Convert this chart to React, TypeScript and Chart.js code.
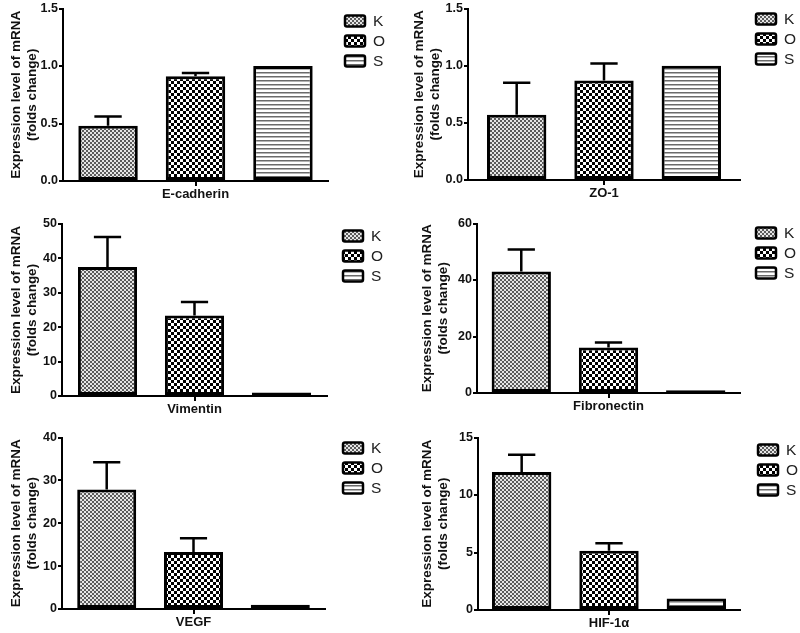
import React, { useEffect, useRef } from "react";
import { Chart, registerables } from "chart.js";
Chart.register(...registerables);

// ---- data ----
const groups = ["K", "O", "S"];
const genes = ["E-cadherin", "ZO-1", "Vimentin", "Fibronectin", "VEGF", "HIF-1α"];
const eCadherinMean = [0.48, 0.91, 1.0];
const eCadherinSem = [0.08, 0.03, 0];
const zo1Mean = [0.57, 0.87, 1.0];
const zo1Sem = [0.28, 0.15, 0];
const vimentinMean = [37.5, 23.4, 1.0];
const vimentinSem = [8.7, 3.9, 0];
const fibronectinMean = [43.0, 16.1, 1.0];
const fibronectinSem = [7.8, 1.8, 0];
const vegfMean = [27.9, 13.3, 1.0];
const vegfSem = [6.3, 3.2, 0];
const hifMean = [12.0, 5.15, 1.0];
const hifSem = [1.5, 0.65, 0];
const yMaxes = [1.5, 1.5, 50, 60, 40, 15];
const ySteps = [0.5, 0.5, 10, 20, 10, 5];
const yTitle = ["Expression level of mRNA", "(folds change)"];

const means = [eCadherinMean, zo1Mean, vimentinMean, fibronectinMean, vegfMean, hifMean];
const sems = [eCadherinSem, zo1Sem, vimentinSem, fibronectinSem, vegfSem, hifSem];

// ---- layout (positions only) ----
const W = 400;
const H = 211;
const FAMILY = "'Liberation Sans', Arial, sans-serif";
const panels = [
  { x: 0, y: 0, left: 63, top: 8, bottom: 181, right: 328, titlePad: 8, cat: 0.99, legX: 345, legY: 21 },
  { x: 400, y: 0, left: 68, top: 7, bottom: 180, right: 340, titlePad: 11, cat: 0.963, legX: 356, legY: 19 },
  { x: 0, y: 215, left: 62, top: 9, bottom: 181, right: 327, titlePad: 8, cat: 0.985, legX: 343, legY: 21 },
  { x: 400, y: 215, left: 77, top: 7, bottom: 178, right: 340, titlePad: 19, cat: 0.995, legX: 356, legY: 18 },
  { x: 0, y: 429, left: 62, top: 8, bottom: 180, right: 325, titlePad: 8, cat: 0.99, legX: 343, legY: 19 },
  { x: 400, y: 429, left: 78, top: 8, bottom: 181, right: 340, titlePad: 19, cat: 1.0, legX: 358, legY: 21 },
];

function makePattern(kind: string): CanvasPattern | string {
  const c = document.createElement("canvas");
  const ctx = c.getContext("2d");
  if (!ctx) return "#999";
  if (kind === "K") {
    c.width = 4; c.height = 4;
    ctx.fillStyle = "#e6e6e6"; ctx.fillRect(0, 0, 4, 4);
    ctx.fillStyle = "#5c5c5c"; ctx.fillRect(0, 0, 2, 2); ctx.fillRect(2, 2, 2, 2);
  } else if (kind === "O") {
    c.width = 6; c.height = 6;
    ctx.fillStyle = "#ffffff"; ctx.fillRect(0, 0, 6, 6);
    ctx.fillStyle = "#000000"; ctx.fillRect(0, 0, 3, 3); ctx.fillRect(3, 3, 3, 3);
  } else {
    c.width = 4; c.height = 4;
    ctx.fillStyle = "#ffffff"; ctx.fillRect(0, 0, 4, 4);
    ctx.fillStyle = "#6a6a6a"; ctx.fillRect(0, 0, 4, 1);
    ctx.fillStyle = "#b4b4b4"; ctx.fillRect(0, 1, 4, 1);
  }
  const p = ctx.createPattern(c, "repeat");
  return p || "#999";
}

function Panel({ idx }: { idx: number }) {
  const ref = useRef<HTMLCanvasElement | null>(null);
  useEffect(() => {
    if (!ref.current) return;
    const p = panels[idx];
    const fills = groups.map((g) => makePattern(g));
    const mean = means[idx];
    const sem = sems[idx];

    const errorBars = {
      id: "errorBars",
      afterDatasetsDraw(chart: any) {
        const ctx = chart.ctx;
        const ys = chart.scales.y;
        ctx.save();
        ctx.strokeStyle = "#000";
        ctx.lineWidth = 2.5;
        chart.data.datasets.forEach((ds: any, i: number) => {
          const s = ds.sem[0];
          if (!s) return;
          const bar = chart.getDatasetMeta(i).data[0];
          const x = bar.x;
          const y0 = bar.y;
          const y1 = ys.getPixelForValue(ds.data[0] + s);
          const half = bar.width * 0.23;
          ctx.beginPath();
          ctx.moveTo(x, y0);
          ctx.lineTo(x, y1);
          ctx.moveTo(x - half, y1);
          ctx.lineTo(x + half, y1);
          ctx.stroke();
        });
        ctx.restore();
      },
    };

    const legendBoxes = {
      id: "legendBoxes",
      afterDraw(chart: any) {
        const ctx = chart.ctx;
        ctx.save();
        chart.data.datasets.forEach((ds: any, i: number) => {
          const y = p.legY + i * 20;
          const bx = p.legX;
          ctx.beginPath();
          ctx.roundRect(bx, y - 5.5, 20, 11, 2);
          ctx.fillStyle = ds.backgroundColor;
          ctx.fill();
          ctx.lineWidth = 2.5;
          ctx.strokeStyle = "#000";
          ctx.stroke();
          ctx.fillStyle = "#222";
          ctx.font = `15.5px ${FAMILY}`;
          ctx.textBaseline = "middle";
          ctx.textAlign = "left";
          ctx.fillText(ds.label, bx + 28, y + 1);
        });
        ctx.restore();
      },
    };

    const chart = new Chart(ref.current, {
      type: "bar",
      data: {
        labels: [genes[idx]],
        datasets: groups.map((g, i) => ({
          label: g,
          data: [mean[i]],
          sem: [sem[i]],
          backgroundColor: fills[i],
          borderColor: "#000",
          borderWidth: 3,
          borderSkipped: false,
          barPercentage: 0.68,
          categoryPercentage: p.cat,
        })) as any,
      },
      options: {
        responsive: false,
        animation: false,
        devicePixelRatio: 1,
        layout: { padding: { top: p.top, right: W - p.right, left: 0, bottom: 0 } },
        plugins: { legend: { display: false }, tooltip: { enabled: false } },
        scales: {
          x: {
            grid: { display: true, offset: false, drawOnChartArea: false, drawTicks: true, tickLength: 5, color: "#000", lineWidth: 2 },
            border: { display: true, color: "#000", width: 2 },
            ticks: { color: "#111", font: { family: FAMILY, size: 13, weight: "bold" }, padding: 1 },
            afterFit: (s: any) => { s.height = H - p.bottom; },
          },
          y: {
            min: 0,
            max: yMaxes[idx],
            grid: { display: true, drawOnChartArea: false, drawTicks: true, tickLength: 4, color: "#000", lineWidth: 2 },
            border: { display: true, color: "#000", width: 2 },
            ticks: {
              stepSize: ySteps[idx],
              color: "#111",
              padding: 1,
              font: { family: FAMILY, size: 12.5, weight: "bold" },
              callback: (v: any) => (ySteps[idx] < 1 ? Number(v).toFixed(1) : String(v)),
            },
            title: {
              display: true,
              text: yTitle,
              color: "#111",
              font: { family: FAMILY, size: 13.5, weight: "bold" },
              padding: { top: p.titlePad, bottom: 0 },
            },
            afterFit: (s: any) => { s.width = p.left; },
          },
        },
      } as any,
      plugins: [errorBars, legendBoxes],
    });
    return () => chart.destroy();
  }, [idx]);
  const p = panels[idx];
  return (
    <div style={{ position: "absolute", left: p.x, top: p.y, width: W, height: H }}>
      <canvas ref={ref} width={W} height={H} style={{ display: "block", width: W, height: H }} />
    </div>
  );
}

export default function App() {
  return (
    <div style={{ position: "fixed", left: 0, top: 0, width: 800, height: 633, overflow: "hidden", background: "#fff" }}>
      {panels.map((_, i) => (
        <Panel key={i} idx={i} />
      ))}
    </div>
  );
}
